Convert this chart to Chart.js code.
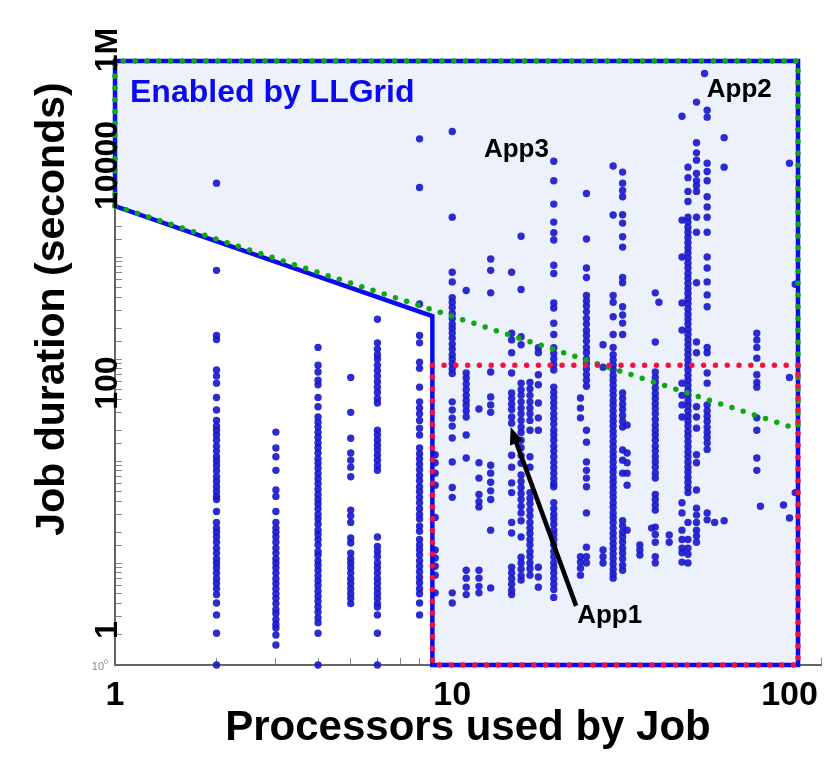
<!DOCTYPE html>
<html>
<head>
<meta charset="utf-8">
<script src="https://cdn.jsdelivr.net/npm/chart.js@4.4.1/dist/chart.umd.min.js"></script>
<style>
  html, body { margin: 0; padding: 0; background: #fff; }
  #wrap { width: 825px; height: 770px; }
</style>
</head>
<body>
<div id="wrap"><canvas id="jobChart" width="825" height="770"></canvas></div>
<script>
// processors used by a job (x) and the job durations seen at that count (seconds)
var procCounts = [2, 3, 4, 5, 6, 8, 8.9, 10, 11, 12, 13, 15, 16, 17, 18, 20, 24, 25, 28, 30,
                  32, 33, 36, 39, 40, 41, 44, 48, 50, 53, 56, 57, 60, 64, 80, 82, 96, 100, 104];
var durations = [
  [53000, 7400, 1700, 1550, 780, 680, 580, 420, 316, 250, 220, 200, 180, 160, 140, 125, 110, 100, 90, 80, 70, 63, 56, 50, 45, 42, 32, 25, 22, 20, 18, 16, 14, 12.5, 11, 10, 9, 8, 7, 6.3, 5.6, 4.9, 4.05, 3.1, 2.05, 1],
  [192, 134, 110, 81, 52, 45, 32, 25, 22, 20, 18, 16, 14, 12.5, 11, 10, 9, 8, 7, 6.3, 5.6, 5, 4.5, 4, 3.5, 3.2, 2.8, 2.5, 2.3, 1.97, 1.57],
  [1300, 870, 745, 620, 560, 420, 340, 270, 240, 215, 190, 170, 150, 135, 120, 105, 95, 85, 75, 67, 60, 53, 47, 42, 38, 34, 30, 27, 24, 21, 19, 17, 15, 13, 12, 10.5, 9.5, 8.5, 7.5, 6.7, 6, 5.3, 4.7, 4.2, 3.7, 3.3, 2.9, 2.6, 2.05, 1],
  [660, 300, 167, 120, 102, 87, 70, 33, 29, 25, 17.6, 15.7, 12.5, 11, 10, 9, 8, 7, 6.3, 5.6, 5, 4.5, 4],
  [2450, 1440, 1250, 1100, 1000, 870, 770, 680, 600, 530, 470, 410, 370, 200, 180, 160, 143, 128, 114, 102, 90, 81, 18, 14.5, 13, 11.5, 10, 9, 8, 7, 6.3, 5.6, 5, 4.5, 4, 3.7, 3.1, 2.05, 1],
  [144000, 48000, 3460, 1700, 1440, 930, 810, 530, 380, 330, 290, 250, 210, 180, 134, 118, 105, 93, 82, 72, 64, 56, 50, 44, 39, 34, 30, 27, 23, 20.5, 17, 15, 13.5, 12, 10.5, 9.3, 8.2, 7.2, 6.4, 5.6, 5, 4.05, 3.1],
  [115, 96, 76, 58, 28, 13.4, 11.2, 9.3, 7.6, 5.1],
  [170000, 24600, 7100, 5700, 4000, 3600, 3200, 2800, 2500, 2200, 2000, 1800, 1600, 1400, 1250, 1100, 1000, 900, 800, 720, 380, 316, 263, 220, 168, 98, 55, 44, 5.1, 4.05],
  [4700, 730, 650, 570, 500, 440, 390, 350, 310, 270, 180, 107, 8.5, 7.1, 5.8, 4.9],
  [323, 96, 68, 47, 40, 35.5, 8.5, 7.1, 5.9, 5.1],
  [9550, 7400, 4450, 745, 425, 355, 300, 91, 76, 62, 51, 42, 21, 5.7],
  [7100, 1790, 1540, 1150, 730, 465, 410, 360, 320, 270, 235, 114, 87, 61, 49, 25, 19.7, 9.1, 8, 7, 6.2, 5.4, 4.9],
  [16000, 4800, 1650, 1380, 580, 500, 440, 380, 330, 290, 250, 215, 190, 160, 135, 113, 95, 73, 63, 55, 48, 42, 36, 31, 26, 18, 11.4, 10, 8.7, 7.5, 6.8],
  [590, 510, 440, 380, 330, 290, 250, 200, 110, 87, 49, 43, 38, 33, 29, 25, 22, 19.5, 17, 15, 13, 11.5, 10, 8.8, 7.6],
  [1290, 1150, 700, 560, 370, 265, 200, 9.1, 7.3, 5.8],
  [87000, 56000, 33000, 22000, 17300, 14700, 8300, 6900, 3540, 3160, 2240, 1740, 1290, 1130, 1000, 880, 780, 530, 470, 420, 370, 330, 290, 260, 230, 200, 180, 160, 140, 125, 110, 97, 86, 76, 67, 60, 56, 39, 34, 30, 27, 24, 21, 19, 17, 15, 13, 11.5, 10, 9, 8, 7, 6.2, 5.5, 4.6],
  [415, 330, 265, 11.5, 10.2, 8.9, 7.6],
  [42000, 15000, 7800, 6300, 4200, 3700, 3300, 2900, 2500, 2200, 1900, 1700, 1500, 1300, 1150, 1000, 900, 800, 700, 620, 540, 200, 153, 98, 81, 68, 56, 31, 14.3, 11.5, 10],
  [1380, 830, 13.4, 11.5, 10],
  [78000, 25800, 4200, 3600, 2600, 1740, 1300, 1100, 980, 870, 780, 690, 620, 550, 490, 440, 390, 350, 310, 275, 245, 220, 195, 175, 155, 138, 123, 110, 98, 87, 78, 69, 62, 55, 49, 44, 39, 35, 31, 28, 25, 22, 19.5, 17.4, 15.5, 13.8, 12.3, 11, 9.8, 8.7, 7.8, 7.1],
  [68000, 53000, 45000, 39000, 26000, 21500, 15800, 12500, 6300, 5600, 3250, 2700, 2250, 1740, 465, 410, 360, 320, 280, 245, 215, 128, 102, 76, 26, 23, 20, 18, 16, 14, 12.5, 11, 9.5, 8.5],
  [225, 120, 96, 76, 58, 21],
  [15, 13.4, 12],
  [22],
  [4450, 1470, 745, 660, 590, 520, 460, 410, 365, 325, 290, 255, 225, 200, 180, 160, 140, 125, 110, 98, 87, 76, 68, 47, 42, 37, 33, 22.5, 19, 16, 11.5, 10],
  [3600],
  [18.8, 16],
  [240000, 23000, 10000, 3550, 1920, 580, 440, 355, 270, 39, 31, 21, 17, 14, 12.6, 10.2],
  [76000, 60000, 44000, 35000, 24500, 22000, 19500, 17400, 15500, 13800, 12300, 11000, 9800, 8700, 7800, 6900, 6200, 5500, 4900, 4400, 3900, 3500, 3100, 2750, 2450, 2200, 1950, 1740, 1550, 1380, 1230, 1100, 980, 870, 780, 690, 620, 550, 490, 440, 390, 350, 310, 275, 245, 220, 195, 175, 155, 138, 123, 110, 98, 87, 78, 69, 62, 55, 49, 25, 17, 14, 12.2, 10],
  [330000, 132000, 105000, 89000, 66000, 56000, 50000, 44000, 24500, 17500, 5600, 1470, 1150, 340, 270, 210, 115, 96, 52, 34.5, 29.5, 25, 21, 18.4, 16],
  [630000],
  [275000, 235000, 83000, 69000, 56000, 39000, 31000, 24500, 17500, 10000, 7800, 5700, 4250, 3250, 1300, 1150, 730, 580, 355, 310, 275, 245, 215, 190, 170, 150, 130, 31, 26.5],
  [25],
  [148000, 76000, 26],
  [1790, 1540, 1300, 1020, 700, 590, 530, 265, 200, 107, 81],
  [36],
  [37],
  [83000, 660, 27.6],
  [5400, 49]
];

// axis labels
var xTickLabels = {1: '1', 10: '10', 100: '100'};
var yTickText = ['1', '100', '10000', '1M'];
var yTickAt = [2.2, 580, 79000, 1070000];   // where each label sits on the duration axis

// the LLGrid region: box edges, the cut at ~9 processors and the boundary lines
var boxLeft = 1, boxRight = 106, boxTop = 835000, boxBottom = 1;
var cutProcs = 8.73;
var edgeStart = 31600, edgeAtCut = 2640;   // solid blue edge, x = 1 .. cutProcs
var greenEnd = 205;                        // dotted green edge reaches this at boxRight
var redLevel = 870;                        // dotted red ceiling

var notes = [
  {text: 'App3', x: 15.5, y: 95000},
  {text: 'App2', x: 71, y: 370000},
  {text: 'App1', x: 29.3, y: 2.6}
];
var arrowFrom = {x: 23.3, y: 3.8}, arrowTo = {x: 14.9, y: 215};
var gridNote = {text: 'Enabled by LLGrid', x: 1.108, y: 330000};

var FONT = '"Liberation Sans", Arial, Helvetica, sans-serif';

var jobPoints = [];
procCounts.forEach(function(p, i) {
  durations[i].forEach(function(s) { jobPoints.push({x: p, y: s}); });
});

function dotted(color, pts, order) {
  return {
    type: 'line', data: pts, order: order, clip: false,
    borderColor: color, borderWidth: 5.5, borderDash: [0, 11.8], borderCapStyle: 'round',
    pointRadius: 0, fill: false, tension: 0
  };
}

var overlayText = {
  id: 'overlayText',
  afterDraw: function(chart) {
    var ctx = chart.ctx, xs = chart.scales.x, ys = chart.scales.y;
    ctx.save();

    // duration tick labels, turned on their side
    ctx.fillStyle = '#000';
    ctx.font = 'bold 32px ' + FONT;
    ctx.textAlign = 'center';
    ctx.textBaseline = 'alphabetic';
    yTickText.forEach(function(t, i) {
      ctx.save();
      ctx.translate(117, ys.getPixelForValue(yTickAt[i]));
      ctx.rotate(-Math.PI / 2);
      ctx.fillText(t, 0, 0);
      ctx.restore();
    });

    // y title
    ctx.save();
    ctx.font = 'bold 41px ' + FONT;
    ctx.translate(64, 309);
    ctx.rotate(-Math.PI / 2);
    ctx.fillText('Job duration (seconds)', 0, 0);
    ctx.restore();

    // original tiny 10^0 label
    ctx.fillStyle = '#888';
    ctx.font = '11px ' + FONT;
    ctx.textAlign = 'right';
    ctx.fillText('10', 104, 670);
    ctx.font = '7px ' + FONT;
    ctx.textAlign = 'left';
    ctx.fillText('0', 104, 664);

    // region note
    ctx.fillStyle = '#0a0af0';
    ctx.font = 'bold 32px ' + FONT;
    ctx.textAlign = 'left';
    ctx.fillText(gridNote.text, xs.getPixelForValue(gridNote.x), ys.getPixelForValue(gridNote.y));

    // app labels
    ctx.fillStyle = '#000';
    ctx.font = 'bold 26px ' + FONT;
    ctx.textAlign = 'center';
    notes.forEach(function(n) {
      ctx.fillText(n.text, xs.getPixelForValue(n.x), ys.getPixelForValue(n.y));
    });

    // arrow from App1 up to its column
    var x0 = xs.getPixelForValue(arrowFrom.x), y0 = ys.getPixelForValue(arrowFrom.y);
    var x1 = xs.getPixelForValue(arrowTo.x), y1 = ys.getPixelForValue(arrowTo.y);
    var ang = Math.atan2(y1 - y0, x1 - x0);
    ctx.strokeStyle = '#000';
    ctx.lineWidth = 4.5;
    ctx.beginPath();
    ctx.moveTo(x0, y0);
    ctx.lineTo(x1 - 12 * Math.cos(ang), y1 - 12 * Math.sin(ang));
    ctx.stroke();
    ctx.beginPath();
    ctx.moveTo(x1, y1);
    ctx.lineTo(x1 - 17 * Math.cos(ang) + 7 * Math.sin(ang), y1 - 17 * Math.sin(ang) - 7 * Math.cos(ang));
    ctx.lineTo(x1 - 17 * Math.cos(ang) - 7 * Math.sin(ang), y1 - 17 * Math.sin(ang) + 7 * Math.cos(ang));
    ctx.closePath();
    ctx.fillStyle = '#000';
    ctx.fill();

    ctx.restore();
  }
};

var chart = new Chart(document.getElementById('jobChart').getContext('2d'), {
  type: 'scatter',
  data: {
    datasets: [
      dotted('#f5103e', [
        {x: boxRight, y: redLevel}, {x: cutProcs, y: redLevel}, {x: cutProcs, y: boxBottom},
        {x: boxRight, y: boxBottom}, {x: boxRight, y: redLevel}
      ], 0),
      dotted('#10a810', [{x: boxLeft, y: edgeStart}, {x: boxRight, y: greenEnd}], 1),
      dotted('#10a810', [
        {x: boxLeft, y: edgeStart}, {x: boxLeft, y: boxTop}, {x: boxRight, y: boxTop}, {x: boxRight, y: greenEnd}
      ], 1),
      {
        type: 'line', order: 2, clip: false,
        data: [
          {x: boxLeft, y: edgeStart}, {x: cutProcs, y: edgeAtCut}, {x: cutProcs, y: boxBottom},
          {x: boxRight, y: boxBottom}, {x: boxRight, y: boxTop}, {x: boxLeft, y: boxTop}, {x: boxLeft, y: edgeStart}
        ],
        borderColor: '#0a0af0', borderWidth: 4.5, borderJoinStyle: 'miter',
        pointRadius: 0, fill: false, tension: 0
      },
      {
        label: 'Jobs', order: 3, clip: false,
        data: jobPoints,
        pointRadius: 3.7, pointBorderWidth: 0,
        backgroundColor: 'rgba(26,26,205,0.92)', borderColor: 'rgba(26,26,205,0.92)'
      },
      {
        type: 'line', order: 4,
        data: [{x: boxLeft, y: edgeStart}, {x: cutProcs, y: edgeAtCut}, {x: cutProcs, y: boxBottom}, {x: boxRight, y: boxBottom}],
        borderWidth: 0, pointRadius: 0, tension: 0,
        fill: {value: boxTop}, backgroundColor: '#edf1fb'
      }
    ]
  },
  options: {
    responsive: false,
    animation: false,
    devicePixelRatio: 1,
    layout: { padding: {left: 0, right: 3, top: 61, bottom: 0} },
    plugins: { legend: {display: false}, tooltip: {enabled: false} },
    scales: {
      x: {
        type: 'logarithmic', min: 1, max: 124,
        afterFit: function(s) { s.height = 105; s.paddingLeft = 0; s.paddingRight = 0; },
        border: {display: true, color: '#666', width: 2},
        grid: {drawOnChartArea: false, drawTicks: true, tickLength: -7, color: '#888'},
        ticks: {
          autoSkip: false, maxRotation: 0, padding: 17, color: '#000',
          font: {family: FONT, size: 34, weight: 'bold'},
          callback: function(v) { return xTickLabels[v] || ''; }
        },
        title: {
          display: true, text: 'Processors used by Job', color: '#000',
          font: {family: FONT, size: 42, weight: 'bold'},
          padding: {top: 0, bottom: 16}
        }
      },
      y: {
        type: 'logarithmic', min: 1, max: boxTop,
        afterFit: function(s) { s.width = 115; s.paddingTop = 0; s.paddingBottom = 0; },
        border: {display: true, color: '#666', width: 2},
        grid: {drawOnChartArea: false, drawTicks: true, tickLength: -7, color: '#888'},
        ticks: { autoSkip: false, callback: function() { return ''; } }
      }
    }
  },
  plugins: [overlayText]
});
</script>
</body>
</html>
